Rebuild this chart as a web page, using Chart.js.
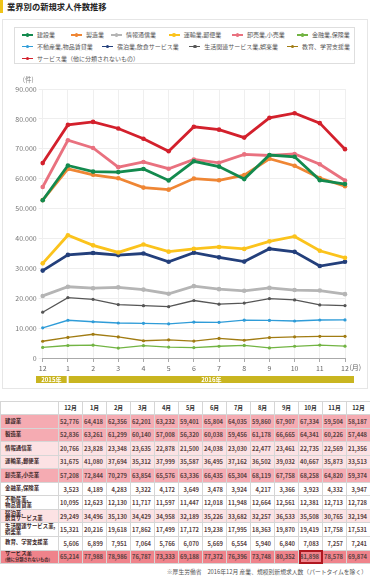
<!DOCTYPE html>
<html><head><meta charset="utf-8">
<script src="https://cdn.jsdelivr.net/npm/chart.js@4"></script>
<style>
body{margin:0;width:370px;height:577px;position:relative;font-family:"Noto Sans CJK JP","Noto Sans",sans-serif;background:#fff;overflow:hidden}
#title{position:absolute;left:0;top:0;height:13px;border-left:3px solid #f0c419;padding-left:4px;font-size:8.3px;font-weight:bold;line-height:13px;color:#222;white-space:nowrap}
#box{position:absolute;left:2px;top:19px;width:366px;height:370px;border:1px solid #e6e6e6;box-sizing:border-box}
#legend{position:absolute;left:14px;top:27px;width:341px;height:37px;border:1px solid #dedede;box-sizing:border-box}
.li{position:absolute;font-size:6px;color:#555;height:8px;line-height:8px;white-space:nowrap}
.mk{position:absolute;left:0;top:0;width:11px;height:8px}
.mk i{position:absolute;left:0;top:3.3px;width:11px;height:1.5px}
.mk b{position:absolute;left:3.8px;top:2.3px;width:3.5px;height:3.5px;border-radius:50%}
.li span{position:absolute;left:15px;top:0}
#cv{position:absolute;left:0;top:70px}
#tbl{position:absolute;left:0;top:400.5px;width:370px;border-collapse:collapse;table-layout:fixed}
#tbl td,#tbl th{border:1px solid #d6d6d6;padding:0;height:12.55px;overflow:hidden;white-space:nowrap}
#tbl th{font-size:5.8px;font-weight:bold;color:#333;text-align:center;background:#fff}
#tbl td.lb{font-size:5.4px;font-weight:bold;color:#3a2626;text-align:left;padding-left:4px;line-height:5.6px}
#tbl td.nm{font-size:5.8px;font-weight:600;color:#5a4242;text-align:right;padding-right:3px}
#tbl td.lb small{font-size:4.2px;display:block;line-height:5px}
#note{position:absolute;right:3px;top:568px;font-size:5.8px;color:#555;white-space:nowrap;line-height:8px}
</style></head>
<body>
<div id="title">業界別の新規求人件数推移</div>
<div id="box"></div>
<div id="legend"></div>
<canvas id="cv" width="370" height="320"></canvas>
<table id="tbl"></table>
<div id="note">※厚生労働省　2016年12月 産業、規模別新規求人数（パートタイムを除く）</div>
<script>
// ---- data ----
const monthTicks = ['12','1','2','3','4','5','6','7','8','9','10','11','12'];
const monthHeaders = ['12月','1月','2月','3月','4月','5月','6月','7月','8月','9月','10月','11月','12月'];
const yearLabels = ['2015年','2016年'];
const yTickMax = 90000, yTickStep = 10000;

const seriesNames = ['建設業','製造業','情報通信業','運輸業,郵便業','卸売業,小売業','金融業,保険業','不動産業,物品賃貸業','宿泊業,飲食サービス業','生活関連サービス業,娯楽業','教育、学習支援業','サービス業（他に分類されないもの）'];
const kensetsu = [52776,64418,62356,62201,63232,59401,65804,64035,59860,67907,67334,59504,58187];
const seizou   = [52836,63261,61299,60140,57008,56320,60038,59456,61178,66665,64341,60226,57448];
const jouhou   = [20766,23828,23348,23635,22878,21500,24038,23030,22477,23461,22735,22569,21356];
const unyu     = [31675,41080,37694,35312,37999,35587,36495,37162,36502,39032,40667,35873,33513];
const oroshi   = [57208,72844,70279,63854,65576,63336,66435,65304,68119,67758,68258,64820,59374];
const kinyu    = [3523,4189,4283,3322,4172,3649,3478,3924,4217,3366,3923,4332,3947];
const fudousan = [10095,12623,12130,11717,11597,11447,12018,11948,12664,12561,12381,12713,12728];
const shukuhaku= [29249,34496,35130,34429,34958,32189,35226,33682,32257,36533,35508,30765,32194];
const seikatsu = [15321,20216,19618,17862,17499,17172,19238,17995,18363,19870,19419,17758,17531];
const kyouiku  = [5606,6899,7951,7064,5766,6070,5669,6554,5940,6840,7083,7257,7241];
const service  = [65214,77988,78986,76787,73333,69188,77372,76396,73748,80352,81898,78578,69874];
const seriesValues = [kensetsu,seizou,jouhou,unyu,oroshi,kinyu,fudousan,shukuhaku,seikatsu,kyouiku,service];

// ---- styles ----
const colors = ['#138a4e','#ef8634','#b5b5b5','#fbc31c','#e9717f','#72b443','#2f9cd8','#233f7b','#565656','#a17c13','#d3202c'];
const thick  = [true,true,true,true,true,false,false,true,false,false,true];
const tableLabels = ['建設業','製造業','情報通信業','運輸業,郵便業','卸売業,小売業','金融業,保険業','不動産業,<br>物品賃貸業','宿泊業,<br>飲食サービス業','生活関連サービス業,<br>娯楽業','教育、学習支援業','サービス業<small>(他に分類されないもの)</small>'];
const rowBg = ['#f5abb2','#f5abb2','#fce2e4','#fce2e4','#f5abb2','#fff','#fff','#fce2e4','#fff','#fff','#ef838b'];
const legendPos = [[21,30],[70,30],[110,30],[167.7,30],[231,30],[296,30],[21,41.5],[101,41.5],[188.3,41.5],[286,41.5],[21,53.5]];
const legendOrder = [0,1,2,3,4,5,6,7,8,9,10];
const highlight = {row:10,col:10};
const yearColor = '#c9b520';

// legend
const lg = document.getElementById('legend');
legendOrder.forEach((i)=>{
  const d=document.createElement('div'); d.className='li';
  d.style.left=(legendPos[i][0]-14)+'px'; d.style.top=(legendPos[i][1]-27)+'px';
  d.innerHTML='<div class="mk"><i style="background:'+colors[i]+'"></i><b style="background:'+colors[i]+'"></b></div><span>'+seriesNames[i]+'</span>';
  lg.appendChild(d);
});

// table
const tbl=document.getElementById('tbl');
let html='<colgroup><col style="width:58px">'+monthHeaders.map(()=>'<col style="width:24px">').join('')+'</colgroup>';
html+='<tr><th></th>'+monthHeaders.map(m=>'<th>'+m+'</th>').join('')+'</tr>';
seriesValues.forEach((vals,r)=>{
  html+='<tr style="background:'+rowBg[r]+'"><td class="lb">'+tableLabels[r]+'</td>';
  vals.forEach((v,c)=>{
    const hl=(r===highlight.row&&c===highlight.col)?' style="outline:2px solid #b01820;outline-offset:-2px"':'';
    html+='<td class="nm"'+hl+'>'+v.toLocaleString('en-US')+'</td>';
  });
  html+='</tr>';
});
tbl.innerHTML=html;

// chart
const extras={id:'extras',afterDraw(c){
  const {ctx,chartArea:a,scales:{x}}=c;
  ctx.save();
  ctx.font='6.5px "Noto Sans CJK JP"'; ctx.fillStyle='#777';
  ctx.textAlign='right'; ctx.textBaseline='middle';
  ctx.fillText('(件)',a.left-9,a.top-9);
  const pL=x.getPixelForValue(monthTicks.length-1);
  ctx.font='7px "Noto Sans CJK JP"'; ctx.fillStyle='#666'; ctx.textAlign='left';
  ctx.fillText('(月)',pL+4.5,a.bottom+9.5);
  const p0=x.getPixelForValue(0), p1=x.getPixelForValue(1);
  const top=a.bottom+18, h=7;
  ctx.fillStyle=yearColor;
  ctx.fillRect(p0-6.7,top,(p1-1.2)-(p0-6.7),h);
  ctx.fillRect(p1+0.8,top,(pL+9)-(p1+0.8),h);
  ctx.fillStyle='#fff'; ctx.font='bold 6px "Noto Sans CJK JP"'; ctx.textAlign='center';
  ctx.fillText(yearLabels[0],(p0-6.7+p1-1.2)/2,top+h/2+0.3);
  ctx.fillText(yearLabels[1],(p1+0.8+pL+9)/2,top+h/2+0.3);
  ctx.restore();
}};

new Chart(document.getElementById('cv'),{
  type:'line',
  data:{labels:monthTicks,datasets:seriesValues.map((v,i)=>({
    label:seriesNames[i],data:v,borderColor:colors[i],backgroundColor:colors[i],
    borderWidth:thick[i]?2.8:1.3,pointRadius:thick[i]?2.3:1.6,pointBorderWidth:0,
    pointBackgroundColor:colors[i],tension:0,fill:false
  }))},
  options:{
    responsive:false,animation:false,
    layout:{padding:{left:0,right:25,top:19,bottom:0}},
    plugins:{legend:{display:false},tooltip:{enabled:false}},
    scales:{
      x:{grid:{color:'#efefef',tickColor:'#aaa',tickLength:4},border:{color:'#aaa'},
         ticks:{font:{size:7,family:'"Noto Sans CJK JP"'},color:'#666',padding:2,maxRotation:0,autoSkip:false},
         afterFit:s=>{s.height=32;}},
      y:{min:0,max:yTickMax,grid:{color:'#eeeeee',tickLength:4},border:{display:false},
         ticks:{stepSize:yTickStep,font:{size:7,family:'"Noto Sans CJK JP"'},color:'#777',padding:2,
           callback:v=>v===0?'0':v.toLocaleString('de-DE')},
         afterFit:s=>{s.width=42.7;}}
    }
  },
  plugins:[extras]
});
</script>
</body></html>
